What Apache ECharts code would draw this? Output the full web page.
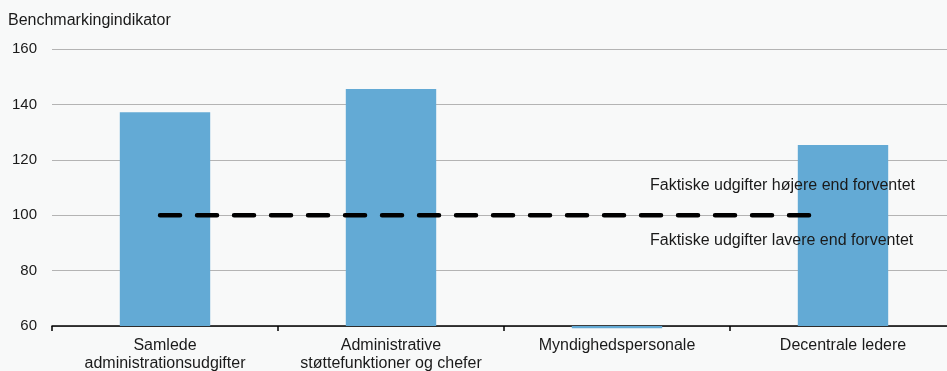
<!DOCTYPE html>
<html>
<head>
<meta charset="utf-8">
<script src="https://cdn.jsdelivr.net/npm/echarts@6/dist/echarts.min.js"></script>
<style>
  html, body { margin: 0; padding: 0; background: #f8f9f9; }
  #chart { width: 947px; height: 371px; }
</style>
</head>
<body>
<div id="chart"></div>
<script>
// kategorier og værdier
var categories = [
  "Samlede\nadministrationsudgifter",
  "Administrative\nstøttefunktioner og chefer",
  "Myndighedspersonale",
  "Decentrale ledere"
];
var values = [137.2, 145.6, 59.2, 125.3];
var axisMin = 60;
// referencelinje ved 100 (position på skjult værdiakse 0-4)
var refLine = [[0.478, 100], [3.40, 100]];
var yTitle = "Benchmarkingindikator";
var noteAbove = "Faktiske udgifter højere end forventet";
var noteBelow = "Faktiske udgifter lavere end forventet";

var chart = echarts.init(document.getElementById("chart"));
var font = "Liberation Sans, Arial, sans-serif";

// søjlerne tegnes fra 60 (aksens bund) ved at stable på en usynlig base
var baseData = values.map(function () { return axisMin; });
var diffData = values.map(function (v) { return +(v - axisMin).toFixed(2); });

var option = {
  backgroundColor: "#f8f9f9",
  animation: false,
  textStyle: { fontFamily: font },
  grid: { left: 52, right: -9, top: 49, bottom: 45, outerBoundsMode: "none", containLabel: false },
  xAxis: [
    {
      type: "category",
      data: categories,
      axisLine: { lineStyle: { color: "#000", width: 1.5 } },
      axisTick: { show: true, interval: 0, length: 5, lineStyle: { color: "#000", width: 1.5 } },
      axisLabel: { interval: 0, color: "#1a1a1a", fontSize: 16, lineHeight: 18, margin: 11, fontFamily: font },
      splitLine: { show: false }
    },
    {
      type: "value",
      min: 0,
      max: 4,
      show: false
    }
  ],
  yAxis: {
    type: "value",
    min: axisMin,
    max: 160,
    interval: 20,
    axisLine: { show: false },
    axisTick: { show: false },
    axisLabel: { color: "#1a1a1a", fontSize: 15, margin: 15, fontFamily: font },
    splitLine: { lineStyle: { color: "#b4b4b4", width: 1 } }
  },
  series: [
    {
      type: "bar",
      data: baseData,
      stack: "s",
      barWidth: "40%",
      clip: false,
      silent: true,
      itemStyle: { color: "rgba(0,0,0,0)" },
      z: 1
    },
    {
      type: "bar",
      data: diffData,
      stack: "s",
      stackStrategy: "all",
      barWidth: "40%",
      clip: false,
      itemStyle: { color: "#63aad5" },
      z: 2
    },
    {
      type: "line",
      xAxisIndex: 1,
      data: refLine,
      symbol: "none",
      lineStyle: { color: "#000", width: 4.5, type: [20, 17], cap: "round" },
      z: 5
    }
  ],
  graphic: [
    {
      type: "text",
      left: 8,
      top: 13,
      style: { text: yTitle, fill: "#1a1a1a", font: "16px " + font }
    },
    {
      type: "text",
      left: 650,
      top: 178,
      z: 10,
      style: { text: noteAbove, fill: "#1a1a1a", font: "16px " + font }
    },
    {
      type: "text",
      left: 650,
      top: 233,
      z: 10,
      style: { text: noteBelow, fill: "#1a1a1a", font: "16px " + font }
    }
  ]
};

option && chart.setOption(option);
</script>
</body>
</html>
